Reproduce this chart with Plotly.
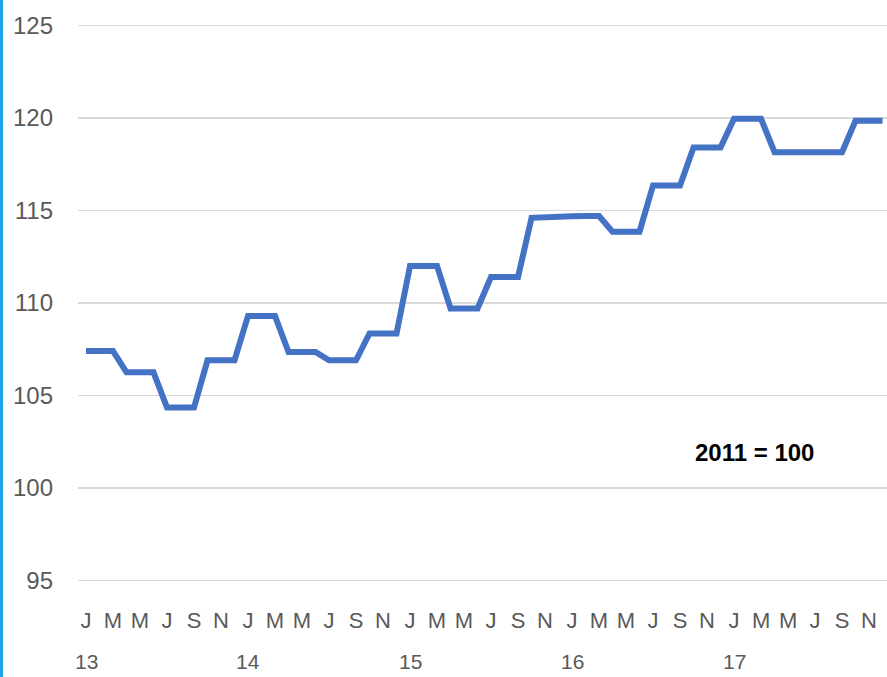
import plotly.graph_objects as go

# Monthly index values, Jan 2013 - Dec 2017 (2011 = 100)
values_2013 = [107.4, 107.4, 107.4, 106.25, 106.25, 106.25, 104.35, 104.35, 104.35, 106.9, 106.9, 106.9]
values_2014 = [109.3, 109.3, 109.3, 107.35, 107.35, 107.35, 106.9, 106.9, 106.9, 108.35, 108.35, 108.35]
values_2015 = [112.0, 112.0, 112.0, 109.7, 109.7, 109.7, 111.4, 111.4, 111.4, 114.6, 114.6, 114.62]
values_2016 = [114.68, 114.7, 114.7, 113.85, 113.85, 113.85, 116.35, 116.35, 116.35, 118.4, 118.4, 118.4]
values_2017 = [119.95, 119.95, 119.95, 118.15, 118.15, 118.15, 118.15, 118.15, 118.15, 119.85, 119.85, 119.85]
values = values_2013 + values_2014 + values_2015 + values_2016 + values_2017

month_labels = ["J", "M", "M", "J", "S", "N"]
year_labels = ["13", "14", "15", "16", "17"]
y_ticks = [95, 100, 105, 110, 115, 120, 125]
note_text = "2011 = 100"

x = list(range(len(values)))
tickvals = list(range(0, len(values), 2))
ticktext = [month_labels[i % 6] for i in range(len(tickvals))]

FONT = "Liberation Sans, Arial, sans-serif"

fig = go.Figure()
fig.add_trace(go.Scatter(
    x=x, y=values, mode="lines",
    line=dict(color="#4472C4", width=6),
    hoverinfo="skip", showlegend=False,
))

fig.update_layout(
    width=887, height=677,
    margin=dict(l=78, r=0, t=18, b=78),
    paper_bgcolor="white", plot_bgcolor="white",
    xaxis=dict(
        range=[-0.593, 59.33],
        tickmode="array", tickvals=tickvals, ticktext=ticktext,
        showgrid=False, zeroline=False, showline=False, ticks="",
        tickfont=dict(family=FONT, size=22, color="#595959"),
        ticklabelstandoff=6,
        fixedrange=True,
    ),
    yaxis=dict(
        range=[94, 125.4],
        tickmode="array", tickvals=y_ticks,
        showgrid=True, gridcolor="#d9d9d9", gridwidth=1.5,
        zeroline=False, showline=False, ticks="",
        tickfont=dict(family=FONT, size=24, color="#595959"),
        ticklabelstandoff=24,
        fixedrange=True,
    ),
)

for i, yl in enumerate(year_labels):
    fig.add_annotation(
        x=i * 12, y=-0.108, xref="x", yref="paper",
        text=yl, showarrow=False, xanchor="center", yanchor="middle",
        font=dict(family=FONT, size=21, color="#595959"),
    )

fig.add_annotation(
    x=49.5, y=101.9, xref="x", yref="y",
    text="<b>" + note_text + "</b>", showarrow=False,
    xanchor="center", yanchor="middle",
    font=dict(family=FONT, size=24, color="black"),
)

# left border line of the image
fig.add_shape(
    type="line", xref="paper", yref="paper",
    x0=(1.5 - 78) / 809, x1=(1.5 - 78) / 809, y0=-0.2, y1=1.2,
    line=dict(color="#1EA5E8", width=3),
)

fig.write_html(
    "out.html",
    config={"displayModeBar": False, "staticPlot": True},
    post_script="document.body.style.margin='0';",
)
